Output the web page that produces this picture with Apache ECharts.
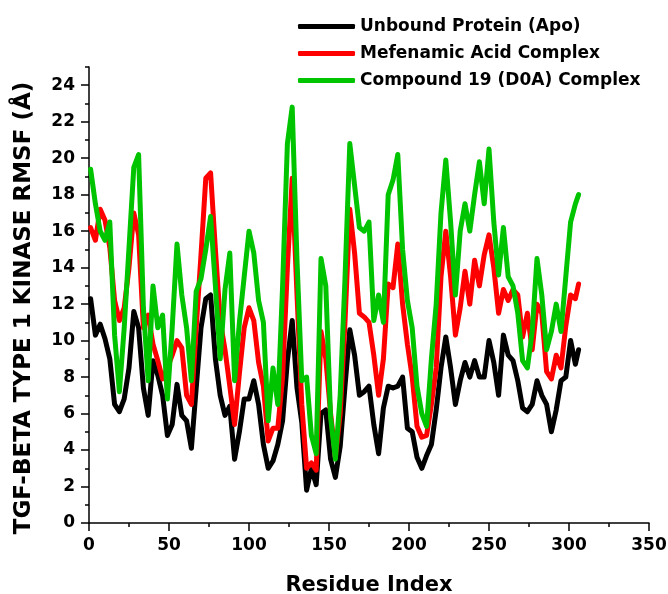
<!DOCTYPE html>
<html>
<head>
<meta charset="utf-8">
<script src="https://cdn.jsdelivr.net/npm/echarts@6/dist/echarts.min.js"></script>
<style>
html,body{margin:0;padding:0;background:#fff;}
#chart{width:668px;height:594px;}
</style>
</head>
<body>
<div id="chart"></div>
<script>
const seriesNames = ['Unbound Protein (Apo)', 'Mefenamic Acid Complex', 'Compound 19 (D0A) Complex'];
const residues = [1,4,7,10,13,16,19,22,25,28,31,34,37,40,43,46,49,52,55,58,61,64,67,70,73,76,79,82,85,88,91,94,97,100,103,106,109,112,115,118,121,124,127,130,133,136,139,142,145,148,151,154,157,160,163,166,169,172,175,178,181,184,187,190,193,196,199,202,205,208,211,214,217,220,223,226,229,232,235,238,241,244,247,250,253,256,259,262,265,268,271,274,277,280,283,286,289,292,295,298,301,304,306];
const apo = [12.3,10.3,10.9,10.1,9.0,6.5,6.1,6.8,8.5,11.6,10.7,7.4,5.9,8.9,8.1,7.0,4.8,5.4,7.6,5.9,5.6,4.1,7.4,10.7,12.3,12.5,9.0,7.0,5.9,6.4,3.5,5.0,6.8,6.8,7.8,6.5,4.3,3.0,3.4,4.3,5.6,8.9,11.1,7.4,5.5,1.8,3.0,2.1,6.0,6.2,3.5,2.5,4.2,7.5,10.6,9.2,7.0,7.2,7.5,5.4,3.8,6.3,7.5,7.4,7.5,8.0,5.2,5.0,3.6,3.0,3.7,4.3,6.2,8.5,10.2,8.5,6.5,7.8,8.8,8.0,8.9,8.0,8.0,10.0,8.8,7.0,10.3,9.2,8.9,7.8,6.3,6.1,6.5,7.8,7.0,6.5,5.0,6.2,7.8,8.0,10.0,8.7,9.5];
const mefenamic = [16.2,15.5,17.2,16.6,15.1,12.2,11.1,11.8,14.0,17.0,15.8,10.7,11.4,9.8,8.9,7.9,8.5,9.2,10.0,9.6,7.0,6.5,10.7,14.7,18.9,19.2,15.0,11.1,9.5,7.5,5.4,8.2,10.7,11.8,11.1,8.8,7.5,4.5,5.2,5.2,8.0,14.0,18.9,12.5,6.5,3.0,3.3,2.9,10.5,9.0,6.0,3.6,6.0,11.0,17.2,14.8,11.5,11.3,11.0,9.2,7.0,9.0,13.1,12.9,15.3,12.0,9.8,8.0,5.3,4.7,4.8,6.5,8.5,13.5,16.0,13.5,10.3,11.8,13.8,12.0,14.4,13.0,14.7,15.8,14.0,11.5,12.8,12.2,12.8,12.5,10.2,11.5,9.5,12.0,11.5,8.3,7.9,9.2,8.5,10.8,12.5,12.3,13.1];
const compound19 = [19.4,17.5,16.0,15.5,16.5,10.3,7.2,10.7,15.1,19.5,20.2,11.8,7.8,13.0,10.7,11.4,6.8,10.7,15.3,12.5,10.7,7.8,12.7,13.4,15.0,16.8,13.0,9.0,12.8,14.8,7.8,11.0,13.5,16.0,14.8,12.2,11.0,5.6,8.5,6.5,13.0,20.8,22.8,14.4,7.8,8.0,4.8,3.8,14.5,13.0,5.8,3.5,7.0,13.4,20.8,18.5,16.2,16.0,16.5,11.1,12.5,11.0,18.0,18.8,20.2,15.0,12.2,10.7,7.5,6.0,5.3,9.0,12.0,17.0,19.9,16.5,12.5,16.0,17.5,16.0,18.0,19.8,17.5,20.5,16.5,13.6,16.2,13.5,13.0,11.5,8.9,8.5,10.5,14.5,12.5,9.5,10.5,12.0,10.5,13.5,16.5,17.5,18.0];
const xTicks = [0,50,100,150,200,250,300,350];
const yMajorTicks = [0,2,4,6,8,10,12,14,16,18,20,22,24];

const FONT = 'DejaVu Sans';
const colors = ['#000000', '#ff0000', '#00c400'];
const valueSets = [apo, mefenamic, compound19];

const chart = echarts.init(document.getElementById('chart'), null, {renderer: 'canvas'});
const axisLineStyle = {color: '#000', width: 1.5};
const labelStyle = {color: '#000', fontFamily: FONT, fontWeight: 'bold', fontSize: 17};

chart.setOption({
  animation: false,
  backgroundColor: '#fff',
  grid: {left: 89, right: 19, top: 67, bottom: 71, containLabel: false, outerBoundsMode: 'none'},
  legend: {
    orient: 'vertical',
    left: 293,
    top: 13,
    itemWidth: 57,
    itemHeight: 5,
    itemGap: 10,
    icon: 'roundRect',
    data: seriesNames,
    textStyle: {color: '#000', fontFamily: FONT, fontWeight: 'bold', fontSize: 17, lineHeight: 17}
  },
  xAxis: {
    type: 'value',
    min: 0,
    max: 350,
    interval: 50,
    name: 'Residue Index',
    nameLocation: 'middle',
    nameGap: 52,
    nameTextStyle: {color: '#000', fontFamily: FONT, fontWeight: 'bold', fontSize: 21},
    axisLine: {show: true, onZero: false, lineStyle: axisLineStyle},
    axisTick: {show: true, inside: false, length: 8, lineStyle: axisLineStyle},
    minorTick: {show: true, splitNumber: 2, length: 4, lineStyle: axisLineStyle},
    splitLine: {show: false},
    axisLabel: Object.assign({margin: 14, formatter: v => xTicks.includes(v) ? String(v) : ''}, labelStyle)
  },
  yAxis: [{
    type: 'value',
    min: 0,
    max: 25,
    interval: 1,
    name: 'TGF-BETA TYPE 1 KINASE RMSF (Å)',
    nameLocation: 'middle',
    nameGap: 53,
    nameRotate: 90,
    nameTextStyle: {color: '#000', fontFamily: FONT, fontWeight: 'bold', fontSize: 23, padding: [0, 26, 0, 0]},
    axisLine: {show: true, onZero: false, lineStyle: axisLineStyle},
    axisTick: {show: true, inside: false, length: 4, lineStyle: axisLineStyle},
    splitLine: {show: false},
    axisLabel: Object.assign({margin: 14, formatter: v => yMajorTicks.includes(v) ? String(v) : ''}, labelStyle)
  }, {
    type: 'value',
    min: 0,
    max: 25,
    position: 'left',
    offset: 0,
    axisLine: {show: false},
    axisTick: {show: true, inside: false, length: 8, lineStyle: axisLineStyle, customValues: yMajorTicks},
    axisLabel: {show: false},
    splitLine: {show: false}
  }],
  series: seriesNames.map((name, k) => ({
    name: name,
    type: 'line',
    showSymbol: false,
    symbol: 'none',
    smooth: false,
    z: 2 + k,
    lineStyle: {color: colors[k], width: 5, join: 'round', cap: 'round'},
    itemStyle: {color: colors[k]},
    data: residues.map((r, i) => [r, valueSets[k][i]])
  }))
});
</script>
</body>
</html>
